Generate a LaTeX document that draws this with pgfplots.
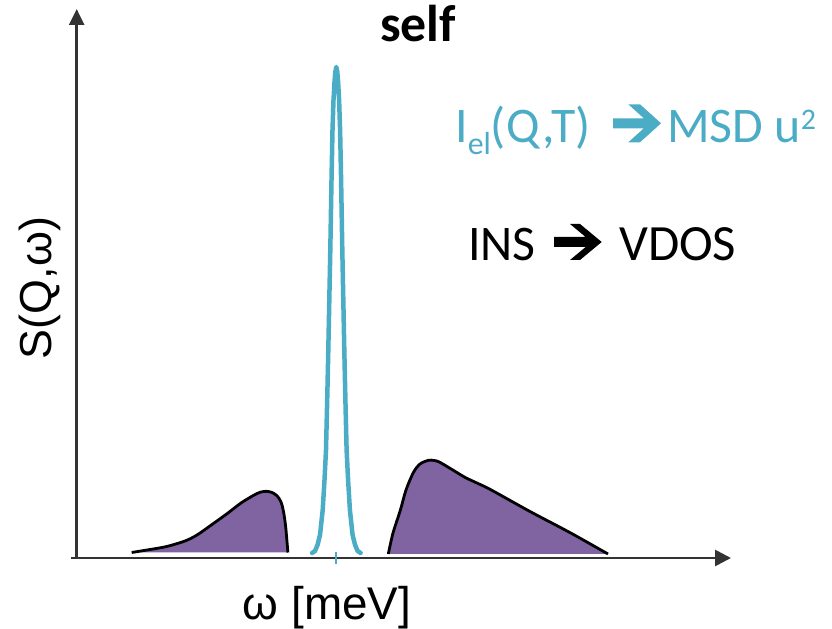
\documentclass[border=0pt]{standalone}
\usepackage{fontspec}
\setmainfont{Carlito}
\newfontfamily\arialf{Liberation Sans}
\usepackage{pgfplots}
\pgfplotsset{compat=1.18}
\usepgfplotslibrary{fillbetween}
\usetikzlibrary{arrows.meta}
\definecolor{myteal}{HTML}{4BACC6}
\definecolor{mypurple}{HTML}{8064A2}
\definecolor{axgray}{HTML}{333333}
\begin{document}
\begin{tikzpicture}
\begin{axis}[scale only axis, width=832bp, height=629bp,
  xmin=0, xmax=832, ymin=0, ymax=629, y dir=reverse,
  axis lines=none, clip=false]

% left inelastic hump
\addplot[name path=LA, black, line width=2.8bp, smooth, tension=0.5] coordinates {
 (131.7,552.5) (150,549.5) (166.7,546.5) (185,541) (197,535) (212,524.5)
 (227.3,513.5) (241,503) (253.3,495.5) (260,492.3) (266.3,491.3) (272,492.5)
 (277,495.8) (281,502) (283.6,512) (285.8,528) (287.9,552.5)};
\addplot[name path=LB, draw=none] coordinates {(131.7,552.5) (287.9,552.5)};
\addplot[mypurple] fill between[of=LA and LB];

% right inelastic hump
\addplot[name path=RA, black, line width=2.8bp, smooth, tension=0.5] coordinates {
 (388.3,554) (393,533) (400.4,510) (406,490) (413.4,472.5) (420,464) (428.5,460.3)
 (434,460.5) (439.3,462) (452,469.5) (465.3,477.5) (478,483.5) (491.3,490)
 (530,511.5) (570,532.6) (608,554)};
\addplot[name path=RB, draw=none] coordinates {(388.3,554) (608,554)};
\addplot[mypurple] fill between[of=RA and RB];

% elastic line
\addplot[myteal, line width=4.5bp, line join=round, line cap=round] coordinates {
 (312,553) (315,551) (317.5,545) (320,535) (322.7,510) (324.5,480) (326,450)
 (327.2,400) (328.3,350) (329.3,300) (330.3,250) (331.5,180) (332.5,130)
 (333.5,100) (334.5,82) (335.3,72) (336.3,67) (337.3,72) (338.1,82) (339.1,100)
 (340.1,130) (341.1,180) (342.3,250) (343.3,300) (344.3,350) (345.4,400)
 (346.6,450) (348.1,480) (349.9,510) (352.6,535) (355.1,545) (357.6,551) (360.6,553)};

% axes
\draw[axgray, line width=2.7bp, -{Triangle[length=16bp,width=16bp]}]
  (axis cs:70.7,558) -- (axis cs:731,558);
\draw[axgray, line width=2.7bp, -{Triangle[length=16bp,width=15bp]}]
  (axis cs:76.7,558) -- (axis cs:76.7,9);
\draw[myteal, line width=2bp] (axis cs:336,552) -- (axis cs:336,564);

% axis labels
\node[rotate=90, anchor=center, inner sep=0, font=\arialf\fontsize{45}{50}\selectfont]
  at (axis cs:40,288) {S(Q,ω)};
\node[anchor=base, inner sep=0, font=\arialf\fontsize{46}{50}\selectfont]
  at (axis cs:327,619) {ω [meV]};

% title
\node[anchor=base, inner sep=0, font=\fontsize{52}{60}\selectfont\bfseries]
  at (axis cs:418,42) {self};

% teal annotation
\node[anchor=base west, inner sep=0, text=myteal, font=\fontsize{50}{60}\selectfont]
  at (axis cs:455,143) {I\raisebox{-12bp}{\fontsize{32}{36}\selectfont el}(Q,T)};
\fill[myteal] (axis cs:613,118.3) -- (axis cs:643.8,118.3) -- (axis cs:628.3,104.3)
  -- (axis cs:640,104.3) -- (axis cs:661,123.3) -- (axis cs:640,142.3)
  -- (axis cs:628.3,142.3) -- (axis cs:643.8,128.3) -- (axis cs:613,128.3) -- cycle;
\node[anchor=base west, inner sep=0, text=myteal, font=\fontsize{50}{60}\selectfont]
  at (axis cs:667,143) {MSD u\raisebox{13bp}{\fontsize{30}{34}\selectfont 2}};

% black annotation
\node[anchor=base west, inner sep=0, font=\fontsize{50}{60}\selectfont]
  at (axis cs:468,261) {INS};
\fill[black] (axis cs:554,237) -- (axis cs:585.6,237) -- (axis cs:570,224)
  -- (axis cs:580,224) -- (axis cs:601.7,242) -- (axis cs:580,260)
  -- (axis cs:570,260) -- (axis cs:585.6,247) -- (axis cs:554,247) -- cycle;
\node[anchor=base west, inner sep=0, font=\fontsize{51}{60}\selectfont]
  at (axis cs:619,261) {VDOS};
\end{axis}
\pgfresetboundingbox
\path[use as bounding box] (current axis.south west) rectangle (current axis.north east);
\end{tikzpicture}
\end{document}
